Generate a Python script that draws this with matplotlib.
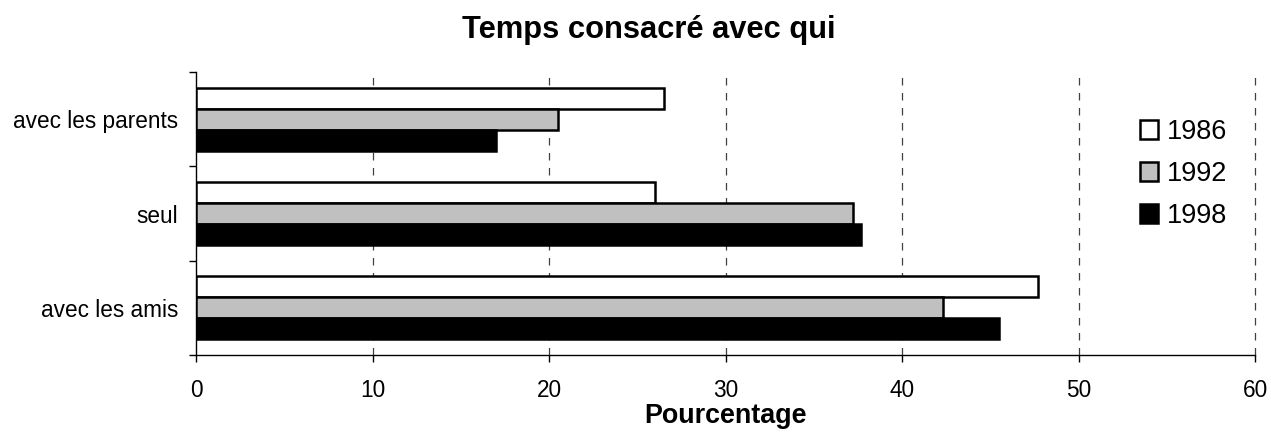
import numpy as np
import matplotlib.pyplot as plt

plt.rcParams['font.family'] = ['Liberation Sans', 'DejaVu Sans']

# data
categories = ["avec les parents", "seul", "avec les amis"]
years = ["1986", "1992", "1998"]
v1986 = [26.5, 26.0, 47.7]
v1992 = [20.5, 37.2, 42.3]
v1998 = [17.0, 37.7, 45.5]
colors = ["white", "#C0C0C0", "black"]

fig = plt.figure(figsize=(12.71, 4.32), dpi=100)
ax = fig.add_axes([196/1271, 1-355/432, (1255-196)/1271, (355-72)/432])

# categories top to bottom
ypos = np.arange(len(categories))[::-1]
h = 0.222
series = [v1986, v1992, v1998]
offsets = [h, 0, -h]
for vals, col, off, yr in zip(series, colors, offsets, years):
    ax.barh(ypos + off, vals, height=h, color=col, edgecolor="black",
            linewidth=1.8, label=yr, zorder=3)

ax.set_xlim(0, 60)
ax.set_ylim(-0.5, 2.5)
ax.set_xticks(np.arange(0, 61, 10))
ax.tick_params(axis="x", labelsize=16.3, length=5, width=1, pad=12)

# category labels at centre, ticks at boundaries
ax.set_yticks(ypos)
ax.set_yticklabels(categories)
ax.set_yticks([-0.5, 0.5, 1.5, 2.5], minor=True)
ax.tick_params(axis="y", which="major", length=0, labelsize=16.3, pad=13)
ax.tick_params(axis="y", which="minor", length=5, width=1)

# dashed vertical gridlines
for xv in range(10, 61, 10):
    ax.axvline(xv, color="#404040", lw=0.9, ls=(0, (6, 6)), zorder=1,
               clip_on=False)

ax.spines["top"].set_visible(False)
ax.spines["right"].set_visible(False)
for s in ["left", "bottom"]:
    ax.spines[s].set_linewidth(1)

ax.set_xlabel("Pourcentage", fontsize=19.4, fontweight="bold", labelpad=1)
fig.text(649/1271, 1-30/432, "Temps consacré avec qui", fontsize=22.2,
         fontweight="bold", ha="center", va="center")

ax.legend(loc="center left", bbox_to_anchor=(1140/1271, 1-174/432),
          bbox_transform=fig.transFigure, frameon=False, fontsize=19.5,
          handlelength=0.68, handleheight=0.68, handletextpad=0.3,
          labelspacing=0.6, borderpad=0, borderaxespad=0)

fig.savefig("out.png", dpi=100)
